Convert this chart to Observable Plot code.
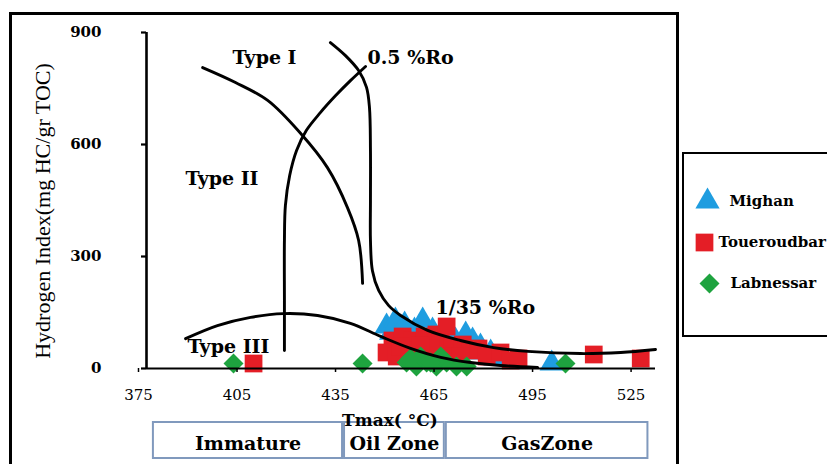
<!DOCTYPE html>
<html><head><meta charset="utf-8">
<script src="https://cdn.jsdelivr.net/npm/d3@7"></script>
<script src="https://cdn.jsdelivr.net/npm/@observablehq/plot@0.6"></script>
<style>
body{margin:0;background:#fff;}
#wrap{position:relative;width:827px;height:464px;overflow:hidden;background:#fff;}
#frame{position:absolute;left:9px;top:12px;width:664px;height:470px;border:3px solid #000;}
#main{position:absolute;left:0;top:0;}
#zones{position:absolute;left:0;top:421px;}
#ytitle{position:absolute;left:43px;top:211px;transform:translate(-50%,-50%) rotate(-90deg);white-space:nowrap;font:22px "Liberation Serif",serif;color:#000;}
#xtitle{position:absolute;left:390px;top:420px;transform:translate(-50%,-50%);white-space:nowrap;font:bold 17px/1 "DejaVu Serif",serif;color:#000;}
#legend{position:absolute;left:682px;top:152px;width:160px;height:181px;border:2.5px solid #000;background:#fff;}
</style></head>
<body><div id="wrap">
<div id="frame"></div>
<div id="main"></div>
<div id="zones"></div>
<div id="ytitle">Hydrogen Index(mg HC/gr TOC)</div>
<div id="xtitle">Tmax( °C)</div>
<div id="legend"></div>
</div>
<script>
const xTicks=[375,405,435,465,495,525];
const yTicks=[0,300,600,900];
const seriesNames=["Mighan","Toueroudbar","Labnessar"];
const seriesColors=["#1f9de0","#e41e26","#1ea33f"];
const seriesSymbols=["triangle","square","diamond2"];

// [Tmax (°C), HI (mg HC/g TOC)]
const mighan=[[448.1,112.5],[450.8,128.6],[453.6,117.9],[459.1,128.6],[456.6,101.8],[462.1,101.8],[449.5,96.0],
 [466.1,85.7],[469.1,75.0],[472.2,91.1],[474.3,75.0],[476.7,58.9],[479.8,42.9],[481.3,26.8],[474.3,42.9],[498.4,13.4]];
const toueroudbar=[[449.9,75.0],[453.0,85.7],[456.0,75.0],[459.7,85.7],[463.3,91.1],[466.4,112.5],[464.6,69.6],
 [468.2,58.9],[471.3,64.3],[473.7,48.2],[476.1,53.6],[478.6,32.1],[482.8,42.9],[485.9,21.4],[488.3,26.8],
 [448.1,42.9],[451.2,32.1],[455.4,48.2],[461.5,53.6],[467.0,32.1],[470.6,32.1],[452.4,58.9],[458.5,61.6],
 [407.6,13.4],[511.2,37.5],[525.5,26.8]];
const labnessar=[[401.5,13.4],[440.8,13.4],[454.2,16.1],[457.2,5.4],[460.3,16.1],[463.3,5.4],[466.4,16.1],
 [469.4,5.4],[458.5,32.1],[464.6,32.1],[455.4,26.8],[461.5,16.1],[472.5,5.4],[502.6,13.4]];

// reference curves
const typeI=[[431.0,873],[435.6,838],[439.6,798],[442.0,753],[442.9,699],[443.2,584],[443.2,450],[443.2,343],
 [443.8,262],[445.7,209],[448.7,169],[452.4,142],[460.6,102],[470.6,75],[480.7,56],[491.1,46],[507.2,40],[519.4,43],[530.0,51]];
const typeII=[[392.1,806],[402.1,766],[411.9,718],[421.9,630],[430.1,538],[436.2,431],[439.6,343],[440.8,228]];
const typeIII=[[386.9,80],[396.6,115],[406.7,137],[416.7,147],[427.1,142],[437.1,121],[446.3,86],[455.4,54],
 [464.6,30],[473.7,16],[482.8,8],[494.1,3]];
const ro05=[[441.7,809],[437.1,771],[432.6,731],[428.0,686],[423.7,638],[420.7,584],[418.6,517],[417.3,437],
 [417.0,343],[417.0,182],[417.0,48]];

const labelTexts=["Type I","0.5 %Ro","Type II","Type III","1/35 %Ro"];
const labelTmax=[401.2,442.3,386.9,387.5,463.0];
const labelHI=[833,833,509,59,163];

const zoneNames=["Immature","Oil Zone","GasZone"];
const zoneStart=[376.8,435,466];
const zoneEnd=[435,466,528];

const xDomain=[375,530];
const font="DejaVu Serif";

const lineStyle={x:d=>d[0],y:d=>d[1],stroke:"#000",strokeWidth:2.9,curve:"catmull-rom"};
const series=[mighan,toueroudbar,labnessar];
const radii=[9,10,9];
const labels=labelTexts.map((t,i)=>({t,x:labelTmax[i],y:labelHI[i]}));

const main=Plot.plot({
  width:680,height:464,marginLeft:146,marginRight:25,marginTop:32,marginBottom:96,
  style:{fontFamily:font,background:"transparent",color:"#000"},
  x:{domain:xDomain,axis:null},
  y:{domain:[yTicks[0],yTicks[yTicks.length-1]],axis:null},
  marks:[
    ...series.map((s,i)=>Plot.dot(s,{x:d=>d[0],y:d=>d[1],symbol:seriesSymbols[i],r:radii[i],fill:seriesColors[i]})),
    Plot.line(typeI,lineStyle),
    Plot.line(typeII,lineStyle),
    Plot.line(typeIII,lineStyle),
    Plot.line(ro05,lineStyle),
    Plot.ruleY([yTicks[0]],{stroke:"#000",strokeWidth:2.2}),
    Plot.ruleX([xTicks[0]],{stroke:"#000",strokeWidth:2.6}),
    Plot.axisY({ticks:yTicks,tickSize:5,tickPadding:40,strokeWidth:2.2,fontSize:15,fontWeight:"bold",fontFamily:font,label:null}),
    Plot.axisX({ticks:xTicks,tickSize:4,tickPadding:17,strokeWidth:1.5,fontSize:15,fontFamily:font,dx:-8,label:null}),
    Plot.text(labels,{x:"x",y:"y",text:"t",textAnchor:"start",fontSize:19,fontWeight:"bold",fontFamily:font,fill:"#000"})
  ]
});
document.getElementById("main").appendChild(main);

const zones=zoneNames.map((n,i)=>({n,x1:zoneStart[i],x2:zoneEnd[i]}));
const zp=Plot.plot({
  width:680,height:38,marginLeft:146,marginRight:25,marginTop:0,marginBottom:0,
  style:{fontFamily:font,background:"transparent",color:"#000"},
  x:{domain:xDomain,axis:null},
  marks:[
    Plot.rect(zones,{x1:"x1",x2:"x2",inset:1,fill:"none",stroke:"#8099bd",strokeWidth:2}),
    Plot.text(zones,{x:d=>(d.x1+d.x2)/2,text:"n",fontSize:19,fontWeight:"bold",fontFamily:font,fill:"#000",dy:3})
  ]
});
document.getElementById("zones").appendChild(zp);

const legendSymbolDx=[23,20,25];
const legendTextDx=[45,34,46];
const leg=Plot.plot({
  width:160,height:181,margin:0,
  style:{fontFamily:font,background:"transparent",color:"#000"},
  x:{axis:null},
  y:{type:"point",domain:seriesNames,range:[26,149],axis:null},
  marks:[
    ...seriesNames.flatMap((name,i)=>[
      Plot.dot([name],{y:d=>d,frameAnchor:"left",dx:legendSymbolDx[i],symbol:seriesSymbols[i],fill:seriesColors[i],r:radii[i]}),
      Plot.text([name],{y:d=>d,text:d=>d,frameAnchor:"left",dx:legendTextDx[i],textAnchor:"start",fontSize:15,fontWeight:"bold",fontFamily:font,fill:"#000"})
    ])
  ]
});
document.getElementById("legend").appendChild(leg);
</script>
</body></html>
